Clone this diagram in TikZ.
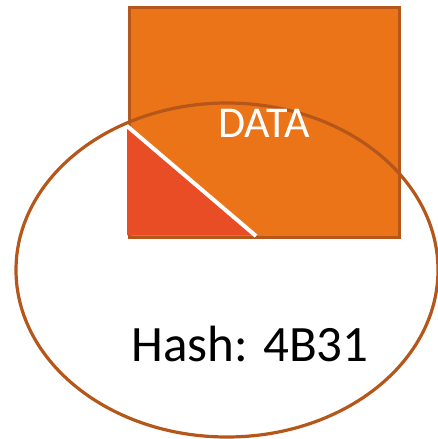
\documentclass[tikz,border=0pt]{standalone}
\usepackage{fontspec}
\setmainfont{Carlito}
\usetikzlibrary{shapes.geometric}
\definecolor{dataorange}{HTML}{EC7418}
\definecolor{rimbrown}{HTML}{B5561A}
\definecolor{cutred}{HTML}{E84D25}

\begin{document}
\begin{tikzpicture}[x=1pt, y=-1pt, box/.style={draw=rimbrown, line width=2.8pt, fill=dataorange, minimum width=270pt, minimum height=230pt, inner sep=0pt, anchor=north west}, ring/.style={ellipse, draw=rimbrown, line width=3.2pt, minimum width=422pt, minimum height=334pt, inner sep=0pt}]
\useasboundingbox (0,0) rectangle (437,439);
\node[box] (data) at (128,6) {};
\node[ring] (hash) at (227,270) {};
\fill[cutred] (127,128) -- (127,235) -- (255,235) -- cycle;
\draw[white, line width=4pt] (127,126) -- (256,236);
\node[text=white, font=\fontsize{44}{44}\selectfont] (datatext) at (264,123) {DATA};
\node[font=\fontsize{51}{51}\selectfont] (hashtext) at (250,344) {Hash: 4B31};
\end{tikzpicture}
\end{document}
